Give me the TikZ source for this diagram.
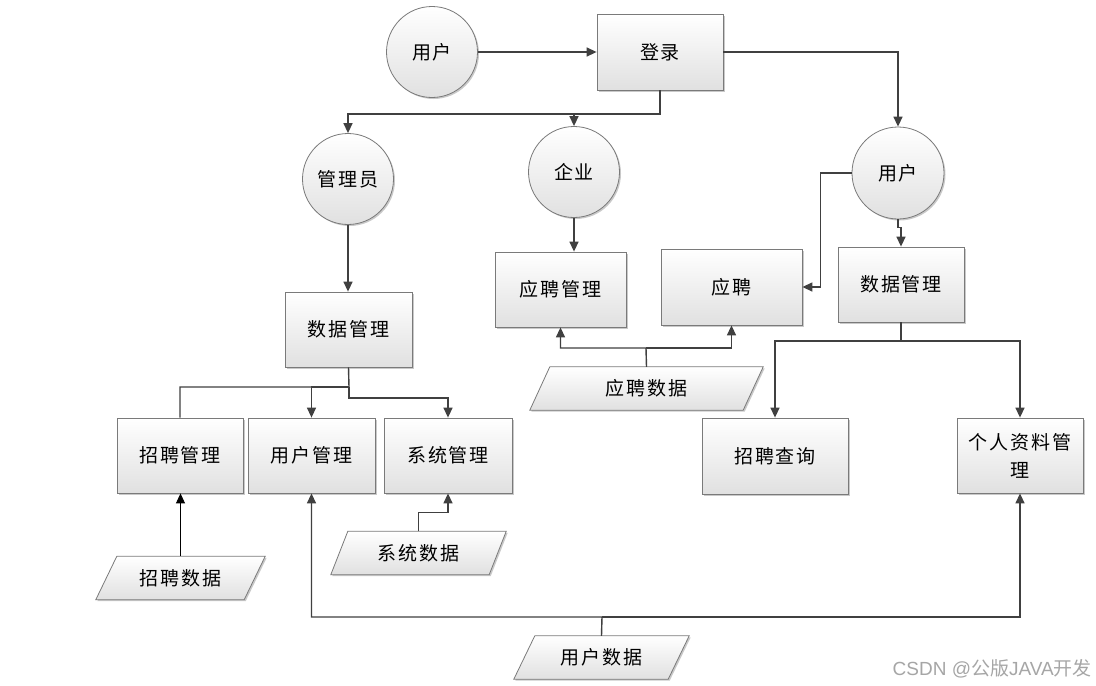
\documentclass[tikz,border=0pt]{standalone}
\usepackage{fontspec}
\newfontfamily\cjk[LetterSpace=10]{Noto Sans CJK SC}
\newfontfamily\wmfont{Noto Sans CJK SC}
\newfontfamily\wmlat{Liberation Sans}
\usetikzlibrary{arrows.meta,shadows,calc,backgrounds}
\definecolor{ln}{HTML}{404040}
\definecolor{bd}{HTML}{7A7A7A}
\newcommand\pgshape[2]{%
  \begin{scope}[on background layer]
  \path[pgfill] ($(#1.south west)+({-#2/2},0)$) -- ($(#1.south east)+({-#2/2},0)$)
     -- ($(#1.north east)+({#2/2},0)$) -- ($(#1.north west)+({#2/2},0)$) -- cycle;
  \end{scope}}
\begin{document}
\begin{tikzpicture}[x=1pt,y=-1pt,
  shd/.style={drop shadow={shadow xshift=1.5pt, shadow yshift=-1.5pt, opacity=0.35, fill=black!60}},
  base/.style={draw=bd, line width=0.8pt, top color=white, bottom color=black!12, shd,
    font=\cjk\fontsize{19}{28}\selectfont, inner sep=0pt, align=center},
  rbox/.style={base, rectangle},
  circ/.style={base, circle, minimum size=91pt},
  pgtxt/.style={rectangle, inner sep=0pt, minimum height=43pt, font=\cjk\fontsize{19}{28}\selectfont},
  pgfill/.style={draw=bd, line width=0.8pt, top color=white, bottom color=black!12, shd},
  line/.style={draw=ln, line width=1.4pt},
  arr/.style={line, -{Triangle[length=10pt,width=9pt]}}
]
\useasboundingbox (0,0) rectangle (1096,686);
\begin{scope}[on background layer]
\fill[white] (0,0) rectangle (1096,686);
\end{scope}

% nodes
\node[circ] (u1) at (432,52) {用户};
\node[rbox, minimum width=126pt, minimum height=76pt] (login) at (660,52) {登录};
\node[circ] (admin) at (348,179) {管理员};
\node[circ] (corp) at (574,172) {企业};
\node[circ, minimum size=92pt] (u2) at (898,173) {用户};

\node[rbox, minimum width=127pt, minimum height=75pt] (dm1) at (348.5,329.5) {数据管理};
\node[rbox, minimum width=126pt, minimum height=75pt] (zpgl) at (180,455.5) {招聘管理};
\node[rbox, minimum width=127pt, minimum height=75pt] (yhgl) at (311.5,455.5) {用户管理};
\node[rbox, minimum width=128pt, minimum height=75pt] (xtgl) at (448,455.5) {系统管理};

\node[rbox, minimum width=131pt, minimum height=75pt] (ypgl) at (560.5,289.5) {应聘管理};
\node[rbox, minimum width=141pt, minimum height=76pt] (yp) at (731.5,287) {应聘};
\node[rbox, minimum width=126pt, minimum height=75pt] (dm2) at (901,284.5) {数据管理};
\node[rbox, minimum width=146pt, minimum height=76pt] (zpcx) at (775,456) {招聘查询};
\node[rbox, minimum width=126pt, minimum height=75pt] (grzl) at (1020,455.5) {个人资料管\\理};

\node[pgtxt, minimum width=148pt] (zpsj) at (180.5,578) {招聘数据};
\pgshape{zpsj}{21}
\node[pgtxt, minimum width=158pt] (xtsj) at (418.5,553) {系统数据};
\pgshape{xtsj}{17}
\node[pgtxt, minimum width=154pt] (yhsj) at (601.5,657.5) {用户数据};
\pgshape{yhsj}{21}
\node[pgtxt, minimum width=213pt] (ypsj) at (646.5,388.5) {应聘数据};
\pgshape{ypsj}{20}

\node[text=black!35, anchor=east, inner sep=0pt] (wm) at (1092,669)
  {\fontsize{19}{21}\selectfont{\wmlat CSDN @}{\wmfont 公版}{\wmlat JAVA}{\wmfont 开发}};

% junctions
\coordinate (j1) at (660,114);
\coordinate (j2) at (646,348);
\coordinate (j3) at (349,387);
\coordinate (j4) at (602,617);
\coordinate (j5) at (901,341);

% connectors
\draw[arr] (u1.east) -- (login.west);
\draw[arr] (login.south) -- (j1) -| (admin.north);
\draw[arr] (corp.north |- j1) -- (corp.north);
\draw[arr] (login.east) -| (u2.north);
\draw[arr] (u2.west) -- ++(-31,0) |- (yp.east);
\draw[arr] (u2.south) -- ++(0,8) -| (dm2.north);
\draw[arr] (corp.south) -- (corp.south |- ypgl.north);
\draw[arr] (ypsj.north) -- (j2) -| (ypgl.south);
\draw[arr] (j2) -| (yp.south);
\draw[arr] (admin.south) -- (admin.south |- dm1.north);
\draw[line] (dm1.south) -- (j3) -| (zpgl.north);
\draw[arr] (j3) -| (yhgl.north);
\draw[arr] (j3) -- (349,398) -| (xtgl.north);
\draw[black, line width=1pt, -{Triangle[length=10pt,width=9pt]}] (zpsj.north) -- (zpsj.north |- zpgl.south);
\draw[arr] (xtsj.north) -- ++(0,-19) -| (xtgl.south);
\draw[arr] (yhsj.north) -- (j4) -| (yhgl.south);
\draw[arr] (j4) -| (grzl.south);
\draw[arr] (dm2.south) -- (j5) -| (zpcx.north);
\draw[arr] (j5) -| (grzl.north);
\end{tikzpicture}
\end{document}
